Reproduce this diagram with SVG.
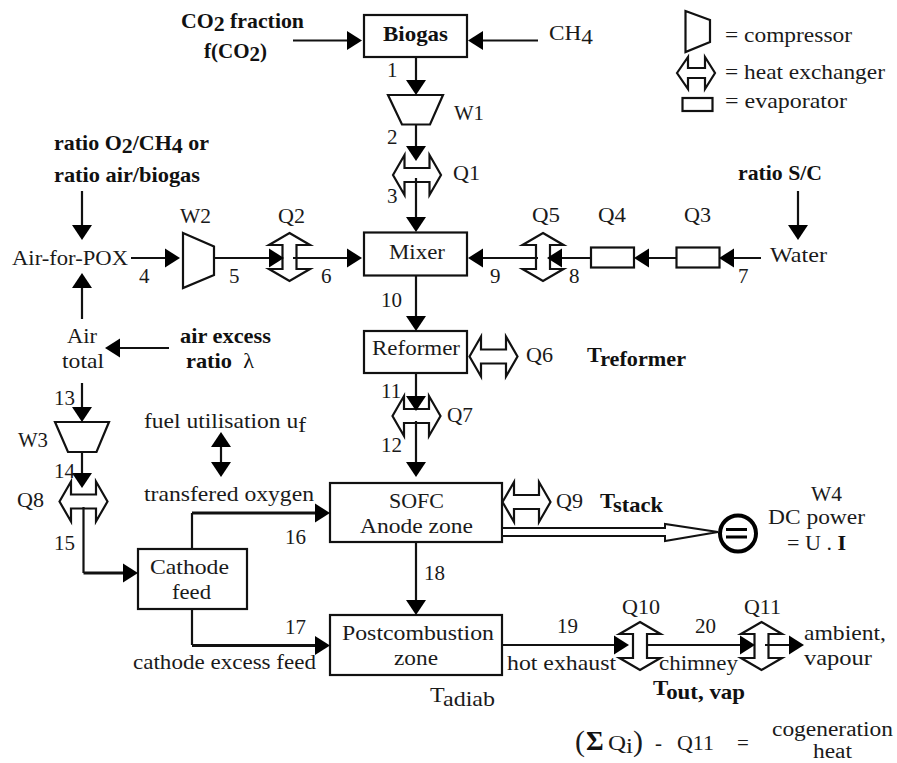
<svg xmlns="http://www.w3.org/2000/svg" width="897" height="763" viewBox="0 0 897 763">
<style>
text{font-family:"Liberation Serif","Times New Roman",serif;font-size:21px;fill:#1a1a1a;white-space:pre}
.b{font-weight:bold;fill:#111}
.n{font-weight:normal}
.c{font-size:20px}
.box{fill:#fff;stroke:#111;stroke-width:2.200}
.sym{fill:#fff;stroke:#111;stroke-width:2.200;stroke-linejoin:miter}
.l{fill:none;stroke:#111;stroke-width:2.200}
.t{fill:none;stroke:#111;stroke-width:3.200}
.h{fill:#000;stroke:none}
</style>
<defs>
<path id="hxh" class="sym" d="M-24,0L-12.500,-20V-7H12.500V-20L24,0L12.500,20V7H-12.500V20Z"/>
<path id="hxv" class="sym" d="M0,-24L20.500,-12H7V12H20.500L0,24L-20.500,12H-7V-12H-20.500Z"/>
<path id="ar" class="h" d="M0,0L-15,-9.500V9.500Z"/>
<path id="al" class="h" d="M0,0L15,-9.500V9.500Z"/>
<path id="ad" class="h" d="M0,0L-10,-15H10Z"/>
<path id="au" class="h" d="M0,0L-10,15H10Z"/>
</defs>

<g id="biogas"><rect class="box" x="364" y="15" width="103" height="42"/><text class="b" x="383" y="41" textLength="65" lengthAdjust="spacingAndGlyphs">Biogas</text></g>
<g id="w1"><path class="sym" d="M388,95H443L430,124.500H402Z"/><text x="454" y="120" textLength="30" lengthAdjust="spacingAndGlyphs">W1</text></g>
<g id="q1"><use href="#hxh" x="417" y="175"/><text x="453" y="180" textLength="27" lengthAdjust="spacingAndGlyphs">Q1</text></g>
<g id="w2"><path class="sym" d="M183,233L214,246.500V275L183,288Z"/><text x="180" y="223" textLength="31" lengthAdjust="spacingAndGlyphs">W2</text></g>
<g id="q2"><use href="#hxv" x="289.500" y="257"/><text x="278" y="223" textLength="27" lengthAdjust="spacingAndGlyphs">Q2</text></g>
<g id="mixer"><rect class="box" x="364" y="232.500" width="103" height="43"/><text x="389" y="259" textLength="56" lengthAdjust="spacingAndGlyphs">Mixer</text></g>
<g id="q5"><use href="#hxv" x="543" y="257"/><text x="532" y="222" textLength="28" lengthAdjust="spacingAndGlyphs">Q5</text></g>
<g id="q4"><rect class="sym" x="591" y="247.500" width="43" height="20"/><text x="598" y="222" textLength="28" lengthAdjust="spacingAndGlyphs">Q4</text></g>
<g id="q3"><rect class="sym" x="676.500" y="247.500" width="43" height="20"/><text x="684" y="222" textLength="27" lengthAdjust="spacingAndGlyphs">Q3</text></g>
<g id="reformer"><rect class="box" x="364" y="331" width="103" height="42"/><text x="372" y="355" textLength="88" lengthAdjust="spacingAndGlyphs">Reformer</text></g>
<g id="q6"><use href="#hxh" x="493.500" y="356.500"/><text x="526" y="362" textLength="27" lengthAdjust="spacingAndGlyphs">Q6</text></g>
<g id="q7"><use href="#hxh" x="416.500" y="416"/><text x="447" y="422" textLength="26" lengthAdjust="spacingAndGlyphs">Q7</text></g>
<g id="w3"><path class="sym" d="M55,422H109L96.500,452H68Z"/><text x="18" y="447" textLength="30" lengthAdjust="spacingAndGlyphs">W3</text></g>
<g id="q8"><use href="#hxh" x="83.500" y="501.500"/><text x="17" y="507" textLength="27" lengthAdjust="spacingAndGlyphs">Q8</text></g>
<g id="cathode"><rect class="box" x="138" y="549" width="109" height="60"/><text x="150" y="574" textLength="79" lengthAdjust="spacingAndGlyphs">Cathode</text><text x="172" y="599" textLength="39" lengthAdjust="spacingAndGlyphs">feed</text></g>
<g id="sofc"><rect class="box" x="330" y="483" width="172" height="59"/><text x="389" y="508" textLength="55" lengthAdjust="spacingAndGlyphs">SOFC</text><text x="360" y="533" textLength="113" lengthAdjust="spacingAndGlyphs">Anode zone</text></g>
<g id="q9"><use href="#hxh" x="526.500" y="502"/><text x="556" y="508" textLength="27" lengthAdjust="spacingAndGlyphs">Q9</text></g>
<g id="post"><rect class="box" x="330" y="615" width="172" height="60"/><text x="342" y="640" textLength="152" lengthAdjust="spacingAndGlyphs">Postcombustion</text><text x="394" y="665" textLength="44" lengthAdjust="spacingAndGlyphs">zone</text></g>
<g id="q10"><use href="#hxv" x="640" y="646"/><text x="622" y="614" textLength="38" lengthAdjust="spacingAndGlyphs">Q10</text></g>
<g id="q11"><use href="#hxv" x="761.500" y="646"/><text x="744" y="614" textLength="37" lengthAdjust="spacingAndGlyphs">Q11</text></g>
<g id="w4"><circle cx="738" cy="533.500" r="18" fill="#fff" stroke="#000" stroke-width="4"/><path d="M726,529.500H747M726,537H747" fill="none" stroke="#000" stroke-width="3"/><text x="811" y="501" textLength="31" lengthAdjust="spacingAndGlyphs">W4</text><text x="768" y="524" textLength="97" lengthAdjust="spacingAndGlyphs">DC power</text><text x="787" y="550" textLength="59" lengthAdjust="spacingAndGlyphs">= U . <tspan class="b">I</tspan></text></g>

<g id="connectors">
<path class="l" d="M293,40.500H348M538,40.500H482M416,57V81M416,124V147M416,178V220M82,191V226M82,319V288M169,348H120M82,383V408M82,451V474M83.500,507V573M798,191V226M131,258H166M214,258H271M293,258H347M538,258H482M590,258H561M677,258H648M761,258H733M416,276V317M416,373V397M416,421V464M416,542V601M221,447V462M192,549V513M192,609V645M502,645H614M646,645H742M765,645H790"/>
<path class="t" d="M83.500,573H125M192,513H317M192,645.500H317"/>
<use href="#ar" x="362" y="40.500"/><use href="#al" x="468" y="40.500"/>
<use href="#ad" x="416" y="95"/><use href="#ad" x="416" y="161"/><use href="#ad" x="416" y="232"/>
<use href="#ad" x="82" y="240"/><use href="#au" x="82" y="273"/><use href="#al" x="105" y="348"/>
<use href="#ad" x="82" y="422"/><use href="#ad" x="82" y="488"/><use href="#ad" x="798" y="240"/>
<use href="#ar" x="180" y="258"/><use href="#ar" x="284" y="258"/><use href="#ar" x="362" y="258"/>
<use href="#al" x="468" y="258"/><use href="#al" x="547" y="258"/><use href="#al" x="634" y="258"/><use href="#al" x="719" y="258"/>
<use href="#ad" x="416" y="331"/><use href="#ad" x="416" y="411"/><use href="#ad" x="416" y="477"/><use href="#ad" x="416" y="615"/>
<use href="#au" x="221" y="432"/><use href="#ad" x="221" y="477"/>
<use href="#ar" x="138" y="573"/><use href="#ar" x="330" y="513"/><use href="#ar" x="330" y="645.500"/>
<use href="#ar" x="629" y="645"/><use href="#ar" x="755" y="645"/><use href="#ar" x="804" y="645"/>
<path d="M503,528H665V524L718,532L665,541V536H503" fill="#fff" stroke="#111" stroke-width="2"/>
</g>

<g id="legend">
<path class="sym" d="M685.500,11L710,20V42L685.500,52Z"/>
<path class="sym" d="M677,73L688,57V68H705V57L715,73L705,89V78H688V89Z"/>
<rect class="sym" x="682.500" y="98" width="30" height="13"/>
<text x="725" y="42" textLength="127" lengthAdjust="spacingAndGlyphs">= compressor</text>
<text x="725" y="79" textLength="160" lengthAdjust="spacingAndGlyphs">= heat exchanger</text>
<text x="725" y="108" textLength="122" lengthAdjust="spacingAndGlyphs">= evaporator</text>
</g>

<g id="labels">
<text class="b" x="181" y="28" textLength="123" lengthAdjust="spacingAndGlyphs">CO<tspan dy="3">2</tspan><tspan dy="-3"> fraction</tspan></text>
<text class="b" x="204" y="58" textLength="63" lengthAdjust="spacingAndGlyphs">f(CO<tspan dy="3">2</tspan><tspan dy="-3">)</tspan></text>
<text x="549" y="40" textLength="44" lengthAdjust="spacingAndGlyphs">CH<tspan dy="4">4</tspan></text>
<text x="387" y="77">1</text><text x="387" y="144">2</text><text x="387" y="203">3</text>
<text class="b" x="54" y="150" textLength="155" lengthAdjust="spacingAndGlyphs">ratio O<tspan dy="3">2</tspan><tspan dy="-3">/CH</tspan><tspan dy="3">4</tspan><tspan dy="-3"> or</tspan></text>
<text class="b" x="54" y="182" textLength="146" lengthAdjust="spacingAndGlyphs">ratio air/biogas</text>
<text class="b" x="738" y="180" textLength="84" lengthAdjust="spacingAndGlyphs">ratio S/C</text>
<text x="12" y="265" textLength="116" lengthAdjust="spacingAndGlyphs">Air-for-POX</text>
<text x="770" y="262" textLength="57" lengthAdjust="spacingAndGlyphs">Water</text>
<text x="139" y="283">4</text><text x="229" y="283">5</text><text x="321" y="283">6</text>
<text x="490" y="283">9</text><text x="569" y="283">8</text><text x="738" y="283">7</text>
<text x="381" y="307">10</text>
<text x="67" y="343" textLength="30" lengthAdjust="spacingAndGlyphs">Air</text>
<text x="62" y="368" textLength="42" lengthAdjust="spacingAndGlyphs">total</text>
<text class="b" x="180" y="343" textLength="91" lengthAdjust="spacingAndGlyphs">air excess</text>
<text class="b" x="186" y="368" textLength="68" lengthAdjust="spacingAndGlyphs">ratio  <tspan class="n">λ</tspan></text>
<text class="b" x="587" y="362" textLength="99" lengthAdjust="spacingAndGlyphs">T<tspan dy="4">reformer</tspan></text>
<text x="54" y="405">13</text><text x="54" y="478">14</text><text x="54" y="550">15</text>
<text x="381" y="398">11</text><text x="381" y="452">12</text>
<text x="144" y="428" textLength="162" lengthAdjust="spacingAndGlyphs">fuel utilisation u<tspan dy="4">f</tspan></text>
<text x="144" y="501" textLength="170" lengthAdjust="spacingAndGlyphs">transfered oxygen</text>
<text x="285" y="544">16</text><text x="285" y="634">17</text><text x="424" y="580">18</text>
<text x="133" y="669" textLength="183" lengthAdjust="spacingAndGlyphs">cathode excess feed</text>
<text class="b" x="600" y="508" textLength="63" lengthAdjust="spacingAndGlyphs">T<tspan dy="4">stack</tspan></text>
<text x="430" y="702" textLength="65" lengthAdjust="spacingAndGlyphs">T<tspan dy="4">adiab</tspan></text>
<text x="557" y="633">19</text><text x="695" y="633">20</text>
<text x="507" y="670" textLength="109" lengthAdjust="spacingAndGlyphs">hot exhaust</text>
<text x="659" y="670" textLength="79" lengthAdjust="spacingAndGlyphs">chimney</text>
<text x="804" y="640" textLength="82" lengthAdjust="spacingAndGlyphs">ambient,</text>
<text x="804" y="665" textLength="68" lengthAdjust="spacingAndGlyphs">vapour</text>
<text class="b" x="653" y="695" textLength="92" lengthAdjust="spacingAndGlyphs">T<tspan dy="4">out, vap</tspan></text>
<text x="575" y="751" style="font-size:30px">(</text>
<text class="b" x="586" y="750" style="font-size:27px">Σ</text>
<text x="608" y="750" textLength="25" lengthAdjust="spacingAndGlyphs">Q<tspan dy="3">i</tspan></text>
<text x="633" y="751" style="font-size:30px">)</text>
<text x="655" y="750">-</text>
<text x="677" y="750" textLength="37" lengthAdjust="spacingAndGlyphs">Q11</text>
<text x="737" y="750">=</text>
<text class="c" x="772" y="736" textLength="121" lengthAdjust="spacingAndGlyphs">cogeneration</text>
<text class="c" x="813" y="758" textLength="39" lengthAdjust="spacingAndGlyphs">heat</text>
</g>
</svg>
